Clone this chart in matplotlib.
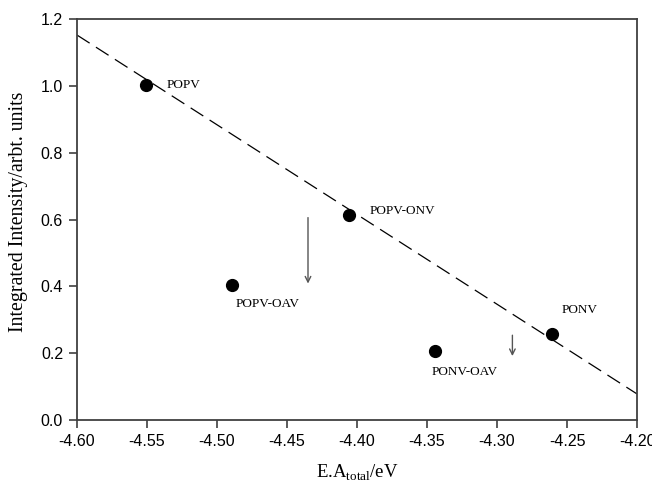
import matplotlib
matplotlib.use("Agg")
import matplotlib.pyplot as plt

names = ["POPV", "POPV-OAV", "POPV-ONV", "PONV-OAV", "PONV"]
ea = [-4.551, -4.489, -4.406, -4.344, -4.261]
intensity = [1.003, 0.405, 0.612, 0.205, 0.257]
label_x = [-4.536, -4.487, -4.391, -4.347, -4.254]
label_y = [1.003, 0.347, 0.626, 0.144, 0.329]

fit_x = [-4.60, -4.20]
fit_y = [1.152, 0.078]

arrow_x = [-4.435, -4.289]
arrow_y0 = [0.614, 0.262]
arrow_y1 = [0.400, 0.183]

fig = plt.figure(figsize=(6.52, 4.87), dpi=100)
ax = fig.add_axes([77/652, 1 - 420/487, 560/652, 401/487])

ax.plot(fit_x, fit_y, color="black", lw=0.9, dashes=(12, 6))
ax.plot(ea, intensity, "o", color="black", ms=8.5, zorder=3)
for n, lx, ly in zip(names, label_x, label_y):
    ax.text(lx, ly, n, family="Liberation Serif", fontsize=9.5, va="center", ha="left")
for x, y0, y1 in zip(arrow_x, arrow_y0, arrow_y1):
    ax.annotate("", xy=(x, y1), xytext=(x, y0),
                arrowprops=dict(arrowstyle="->", color="#555555", lw=1.0))

ax.set_xlim(-4.60, -4.20)
ax.set_ylim(0, 1.2)
ax.set_xticks([-4.60, -4.55, -4.50, -4.45, -4.40, -4.35, -4.30, -4.25, -4.20])
ax.set_xticklabels(["-4.60", "-4.55", "-4.50", "-4.45", "-4.40", "-4.35", "-4.30", "-4.25", "-4.20"])
ax.set_yticks([0.0, 0.2, 0.4, 0.6, 0.8, 1.0, 1.2])
ax.set_yticklabels(["0.0", "0.2", "0.4", "0.6", "0.8", "1.0", "1.2"])
for s in ax.spines.values():
    s.set_color("#404040")
    s.set_linewidth(1.3)
ax.tick_params(direction="out", length=6, width=1.2, color="#404040",
               labelsize=11.5, pad=4)
for lbl in ax.get_xticklabels() + ax.get_yticklabels():
    lbl.set_family("Liberation Sans")

ax.set_xlabel(r"E.A$_{\mathregular{total}}$/eV", family="Liberation Serif", fontsize=13.5, labelpad=10)
ax.set_ylabel("Integrated Intensity/arbt. units", family="Liberation Serif", fontsize=14.3, labelpad=7)
ax.yaxis.set_label_coords(-0.088, 0.519)

fig.savefig("out.png", dpi=100)
